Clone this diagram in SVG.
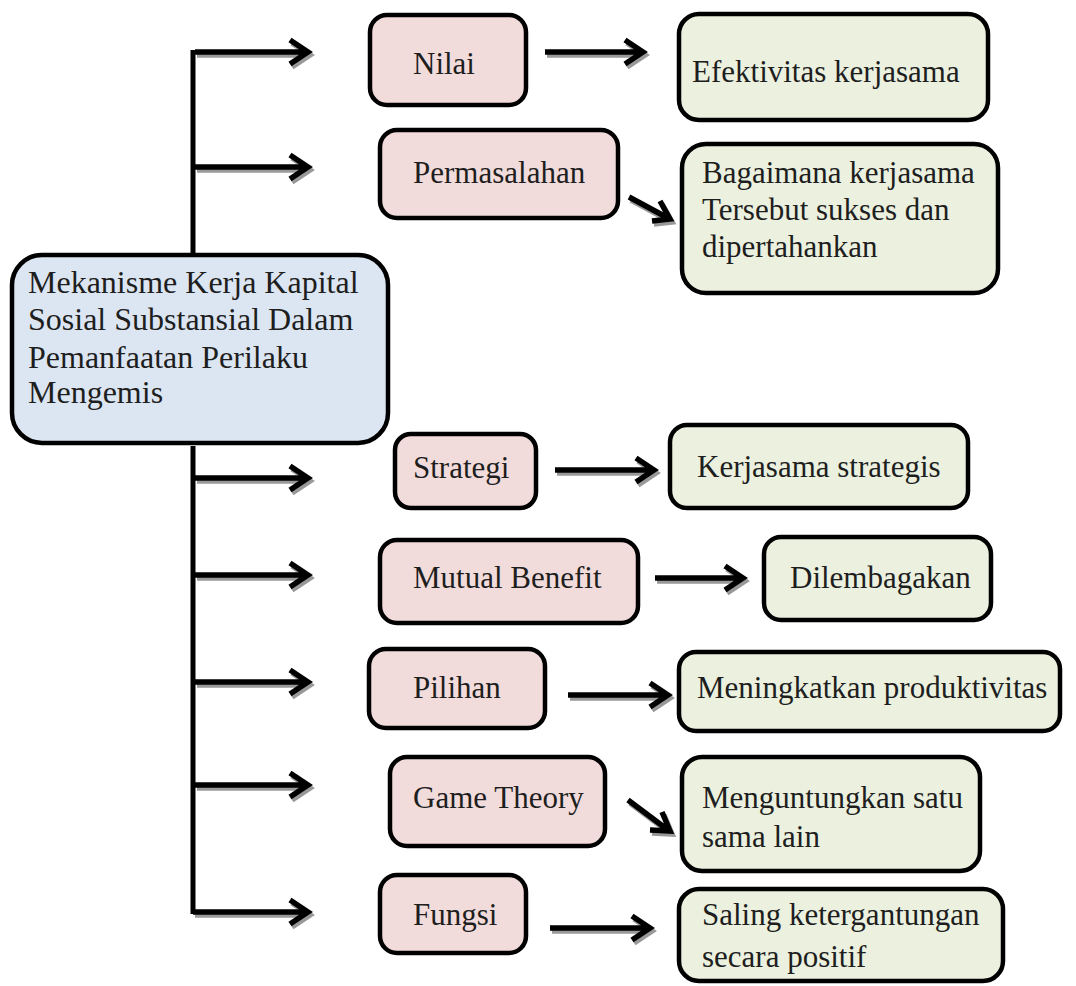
<svg xmlns="http://www.w3.org/2000/svg" xmlns:xlink="http://www.w3.org/1999/xlink" width="1076" height="986" viewBox="0 0 1076 986">
<style>
.box{stroke:#000;stroke-width:4.5}
.p{fill:#F2DCDB}
.g{fill:#EBF1DE}
.b{fill:#DCE6F2}
text{font-family:"Liberation Serif","Times New Roman",serif;font-size:31px;fill:#1e1e1e}
.c text{font-size:32px}
.sh{fill:none;stroke:#999;stroke-width:5.5;stroke-linejoin:miter;stroke-linecap:butt}
.ar{fill:none;stroke:#000;stroke-width:5.5;stroke-linejoin:miter;stroke-linecap:butt}
.tr{fill:none;stroke:#000;stroke-width:5}
</style>
<defs>
<path id="a1" d="M195,52 H306 M290,40 L308,52 L290,64"/>
<path id="a2" d="M195,167 H306 M290,155 L308,167 L290,179"/>
<path id="a3" d="M195,478 H306 M290,466 L308,478 L290,490"/>
<path id="a4" d="M195,575 H306 M290,563 L308,575 L290,587"/>
<path id="a5" d="M195,682 H306 M290,670 L308,682 L290,694"/>
<path id="a6" d="M195,785 H306 M290,773 L308,785 L290,797"/>
<path id="a7" d="M193,912 H306 M290,900 L308,912 L290,924"/>
<path id="b1" d="M545,52 H641 M625,40 L643,52 L625,64"/>
<path id="b2" d="M629,197 L668,218 M660,201 L670,219 L652,221"/>
<path id="b3" d="M555,470 H652 M636,458 L654,470 L636,482"/>
<path id="b4" d="M655,578 H741 M725,566 L743,578 L725,590"/>
<path id="b5" d="M568,695 H666 M650,683 L668,695 L650,707"/>
<path id="b6" d="M628,800 L668,830 M662,812 L670,831 L650,830"/>
<path id="b7" d="M550,928 H648 M632,916 L650,928 L632,940"/>
</defs>
<g id="connectors">
<g transform="translate(2,3)">
<use xlink:href="#a1" class="sh"/><use xlink:href="#a2" class="sh"/><use xlink:href="#a3" class="sh"/><use xlink:href="#a4" class="sh"/><use xlink:href="#a5" class="sh"/><use xlink:href="#a6" class="sh"/><use xlink:href="#a7" class="sh"/>
<use xlink:href="#b1" class="sh"/><use xlink:href="#b2" class="sh"/><use xlink:href="#b3" class="sh"/><use xlink:href="#b4" class="sh"/><use xlink:href="#b5" class="sh"/><use xlink:href="#b6" class="sh"/><use xlink:href="#b7" class="sh"/>
</g>
<path class="tr" d="M193,50 V254 M193,446 V914"/>
<use xlink:href="#a1" class="ar"/><use xlink:href="#a2" class="ar"/><use xlink:href="#a3" class="ar"/><use xlink:href="#a4" class="ar"/><use xlink:href="#a5" class="ar"/><use xlink:href="#a6" class="ar"/><use xlink:href="#a7" class="ar"/>
<use xlink:href="#b1" class="ar"/><use xlink:href="#b2" class="ar"/><use xlink:href="#b3" class="ar"/><use xlink:href="#b4" class="ar"/><use xlink:href="#b5" class="ar"/><use xlink:href="#b6" class="ar"/><use xlink:href="#b7" class="ar"/>
</g>
<g id="center" class="c">
<rect class="box b" x="12" y="255" width="376" height="188" rx="30"/>
<text x="28" y="293">Mekanisme Kerja Kapital</text>
<text x="28" y="330">Sosial Substansial Dalam</text>
<text x="28" y="368">Pemanfaatan Perilaku</text>
<text x="28" y="403">Mengemis</text>
</g>
<g id="nilai"><rect class="box p" x="370" y="15" width="156" height="90" rx="17"/><text x="413" y="74">Nilai</text></g>
<g id="permasalahan"><rect class="box p" x="380" y="130" width="238" height="88" rx="17"/><text x="413" y="183">Permasalahan</text></g>
<g id="efektivitas"><rect class="box g" x="679" y="14" width="309" height="106" rx="20"/><text x="692" y="82">Efektivitas kerjasama</text></g>
<g id="bagaimana"><rect class="box g" x="682" y="144" width="316" height="149" rx="24"/><text x="702" y="183">Bagaimana kerjasama</text><text x="702" y="220">Tersebut sukses dan</text><text x="702" y="257">dipertahankan</text></g>
<g id="strategi"><rect class="box p" x="395" y="434" width="141" height="74" rx="16"/><text x="413" y="478">Strategi</text></g>
<g id="kerjasama-strategis"><rect class="box g" x="670" y="425" width="298" height="83" rx="17"/><text x="697" y="477">Kerjasama strategis</text></g>
<g id="mutual-benefit"><rect class="box p" x="380" y="540" width="258" height="83" rx="17"/><text x="413" y="588">Mutual Benefit</text></g>
<g id="dilembagakan"><rect class="box g" x="764" y="537" width="227" height="83" rx="17"/><text x="790" y="588">Dilembagakan</text></g>
<g id="pilihan"><rect class="box p" x="369" y="649" width="176" height="79" rx="17"/><text x="413" y="698">Pilihan</text></g>
<g id="meningkatkan"><rect class="box g" x="679" y="652" width="381" height="79" rx="17"/><text x="697" y="698">Meningkatkan produktivitas</text></g>
<g id="game-theory"><rect class="box p" x="390" y="757" width="215" height="89" rx="17"/><text x="413" y="808">Game Theory</text></g>
<g id="menguntungkan"><rect class="box g" x="682" y="757" width="298" height="114" rx="20"/><text x="702" y="808">Menguntungkan satu</text><text x="702" y="847">sama lain</text></g>
<g id="fungsi"><rect class="box p" x="380" y="875" width="146" height="78" rx="17"/><text x="413" y="925">Fungsi</text></g>
<g id="saling"><rect class="box g" x="679" y="889" width="324" height="92" rx="20"/><text x="702" y="925">Saling ketergantungan</text><text x="702" y="967">secara positif</text></g>
</svg>
